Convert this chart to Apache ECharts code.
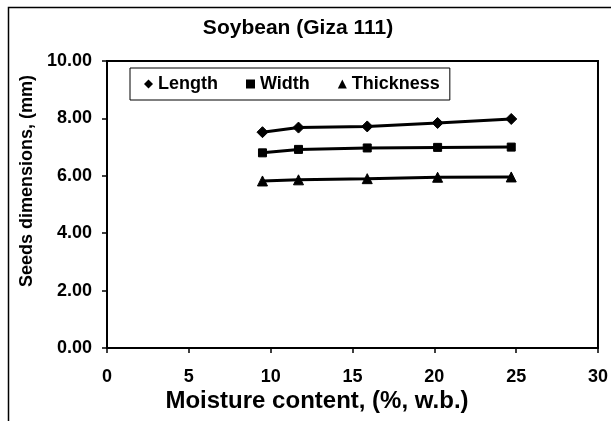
<!DOCTYPE html>
<html>
<head>
<meta charset="utf-8">
<script src="https://cdn.jsdelivr.net/npm/echarts@6/dist/echarts.min.js"></script>
<style>
  html, body { margin: 0; padding: 0; background: #fff; }
  #chart { width: 611px; height: 421px; }
</style>
</head>
<body>
<div id="chart"></div>
<script>
  // moisture content, % w.b.
  const moisture = [9.5, 11.7, 15.9, 20.2, 24.7];
  // seed dimensions, mm
  const lengthVals = [7.52, 7.68, 7.72, 7.84, 7.98];
  const widthVals = [6.80, 6.92, 6.97, 6.99, 7.00];
  const thickVals = [5.82, 5.86, 5.90, 5.95, 5.96];
  const seriesNames = ['Length', 'Width', 'Thickness'];
  const seriesSymbols = ['diamond', 'rect', 'triangle'];
  const seriesSizes = [11, 8, 10];

  const font = '"Liberation Sans", Arial, sans-serif';
  const chart = echarts.init(document.getElementById('chart'));

  const pairs = (ys) => moisture.map((x, i) => [x, ys[i]]);

  chart.setOption({
    animation: false,
    backgroundColor: '#fff',
    textStyle: { fontFamily: font },
    grid: {
      left: 107, right: 13, top: 61, bottom: 73,
      show: true, borderColor: '#000', borderWidth: 2
    },
    legend: {
      left: 130, top: 68,
      padding: [7, 10, 7, 14],
      borderColor: '#000', borderWidth: 1,
      itemGap: 28, itemWidth: 9, itemHeight: 9,
      textStyle: { color: '#000', fontSize: 18, fontWeight: 'bold', fontFamily: font },
      data: seriesNames.map((n, i) => ({ name: n, icon: seriesSymbols[i] }))
    },
    xAxis: {
      type: 'value', min: 0, max: 30, interval: 5,
      axisLine: { lineStyle: { color: '#000', width: 2 } },
      axisTick: { inside: false, length: 5, lineStyle: { color: '#000', width: 1.5 } },
      axisLabel: { color: '#000', fontSize: 18, fontWeight: 'bold', margin: 20 },
      splitLine: { show: false }
    },
    yAxis: {
      type: 'value', min: 0, max: 10, interval: 2,
      axisLine: { show: true, lineStyle: { color: '#000', width: 2 } },
      axisTick: { show: true, length: 5, lineStyle: { color: '#000', width: 1.5 } },
      axisLabel: { color: '#000', fontSize: 18, fontWeight: 'bold', margin: 15,
        formatter: v => v.toFixed(2) },
      splitLine: { show: false }
    },
    graphic: [
      { type: 'rect', shape: { x: 8.5, y: 7.5, width: 700, height: 500 },
        style: { fill: 'none', stroke: '#000', lineWidth: 1.5 }, silent: true, z: -1 },
      { type: 'text', x: 298, y: 28,
        style: { text: 'Soybean (Giza 111)', font: 'bold 21px ' + font, fill: '#000',
          textAlign: 'center', textVerticalAlign: 'middle' } },
      { type: 'text', x: 317, y: 401,
        style: { text: 'Moisture content, (%, w.b.)', font: 'bold 24px ' + font, fill: '#000',
          textAlign: 'center', textVerticalAlign: 'middle' } },
      { type: 'text', x: 27, y: 181, rotation: Math.PI / 2,
        style: { text: 'Seeds dimensions, (mm)', font: 'bold 18px ' + font, fill: '#000',
          textAlign: 'center', textVerticalAlign: 'middle' } }
    ],
    series: [lengthVals, widthVals, thickVals].map((ys, i) => ({
      name: seriesNames[i],
      type: 'line',
      data: pairs(ys),
      symbol: seriesSymbols[i],
      symbolSize: seriesSizes[i],
      showAllSymbol: true,
      lineStyle: { color: '#000', width: 3 },
      itemStyle: { color: '#000', borderColor: '#000' }
    }))
  });
</script>
</body>
</html>
